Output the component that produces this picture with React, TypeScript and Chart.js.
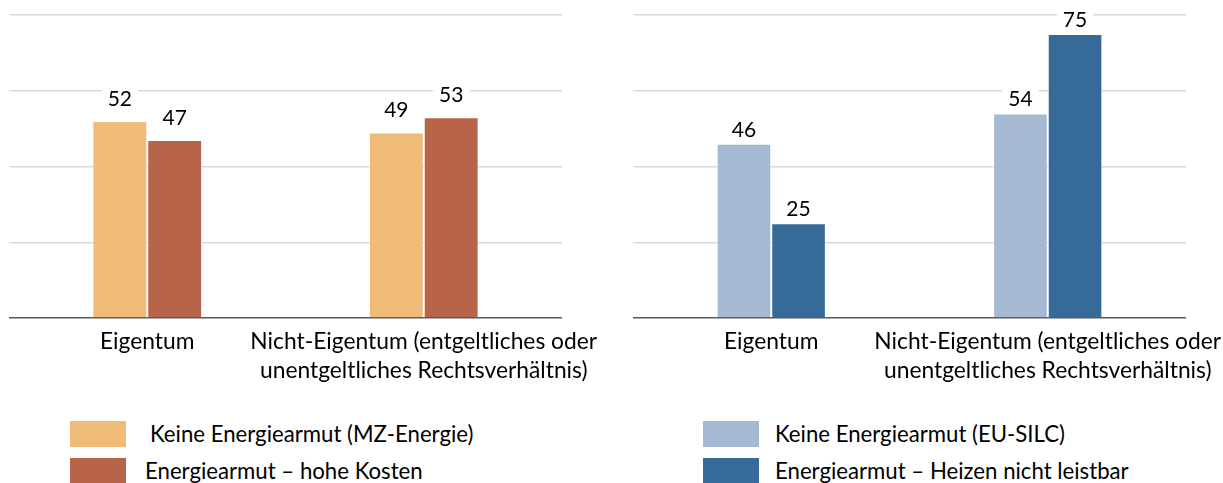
import React, { useEffect, useRef } from 'react';
import { Chart, registerables } from 'chart.js';

Chart.register(...registerables);

// ---- data ----
const categories: string[][] = [
  ['Eigentum'],
  ['Nicht-Eigentum (entgeltliches oder', 'unentgeltliches Rechtsverhältnis)'],
];
const leftSeriesNames = ['Keine Energiearmut (MZ-Energie)', 'Energiearmut – hohe Kosten'];
const leftNoPoverty = [52, 49];
const leftHighCosts = [47, 53];
const rightSeriesNames = ['Keine Energiearmut (EU-SILC)', 'Energiearmut – Heizen nicht leistbar'];
const rightNoPoverty = [46, 54];
const rightHeating = [25, 75];
const yMin = 0;
const yMax = 80;
const yStep = 20;

const leftColors = ['#F0BA78', '#B86449'];
const rightColors = ['#A6B9D3', '#366A99'];

const FONT = 'Lato, "Open Sans", sans-serif';

const makeLabelPlugin = (gap: number) => ({
  id: 'valueLabels',
  afterDatasetsDraw(chart: any) {
    const ctx = chart.ctx;
    ctx.save();
    ctx.font = `21px ${FONT}`;
    ctx.textAlign = 'center';
    ctx.textBaseline = 'alphabetic';
    chart.data.datasets.forEach((ds: any, i: number) => {
      const meta = chart.getDatasetMeta(i);
      meta.data.forEach((bar: any, j: number) => {
        const txt = String(ds.data[j]);
        const w = ctx.measureText(txt).width;
        const base = bar.y - gap;
        ctx.fillStyle = '#ffffff';
        ctx.fillRect(bar.x - w / 2 - 6, base - 20, w + 12, 24);
        ctx.fillStyle = '#000000';
        ctx.fillText(txt, bar.x, base);
      });
    });
    ctx.restore();
  },
});

type PanelProps = {
  left: number;
  width: number;
  height: number;
  padLeft: number;
  padRight: number;
  names: string[];
  series: number[][];
  colors: string[];
  catPct: number;
  labelGap: number;
};

function Panel(p: PanelProps) {
  const ref = useRef<HTMLCanvasElement | null>(null);
  useEffect(() => {
    if (!ref.current) return;
    const chart = new Chart(ref.current, {
      type: 'bar',
      data: {
        labels: categories,
        datasets: p.series.map((d, i) => ({
          label: p.names[i],
          data: d,
          backgroundColor: p.colors[i],
          borderColor: 'rgba(255,255,255,0.6)',
          borderWidth: 1,
          borderSkipped: 'bottom',
          barPercentage: 1,
          categoryPercentage: p.catPct,
        })),
      },
      options: {
        responsive: false,
        animation: false,
        layout: {
          autoPadding: false,
          padding: { left: p.padLeft, right: p.padRight, top: 15, bottom: 0 },
        },
        plugins: {
          legend: { display: false },
          tooltip: { enabled: false },
        },
        scales: {
          x: {
            grid: { display: false, drawTicks: false },
            border: { display: false },
            ticks: {
              padding: 9,
              color: '#000',
              maxRotation: 0,
              autoSkip: false,
              font: { family: FONT, size: 22.8, lineHeight: 29 / 22.8 },
            },
            afterFit: (scale: any) => {
              scale.height = p.height - 318;
              scale.paddingLeft = 0;
              scale.paddingRight = 0;
              scale.paddingTop = 0;
              scale.paddingBottom = 0;
            },
          },
          y: {
            min: yMin,
            max: yMax,
            ticks: { display: false, stepSize: yStep },
            border: { display: false },
            grid: {
              drawTicks: false,
              color: (c: any) => (c.tick && c.tick.value === 0 ? '#595959' : '#D9D9D9'),
              lineWidth: 1.5,
            },
            afterFit: (scale: any) => {
              scale.width = 0;
              scale.paddingLeft = 0;
              scale.paddingRight = 0;
              scale.paddingTop = 0;
              scale.paddingBottom = 0;
            },
          },
        },
      },
      plugins: [makeLabelPlugin(p.labelGap)],
    } as any);
    return () => chart.destroy();
  }, []);
  return (
    <canvas
      ref={ref}
      width={p.width}
      height={p.height}
      style={{ position: 'absolute', left: p.left, top: 0, width: p.width, height: p.height }}
    />
  );
}

function LegendItem(props: { x: number; y: number; tx: number; color: string; text: string; h: number }) {
  return (
    <>
      <div
        style={{
          position: 'absolute',
          left: props.x,
          top: props.y,
          width: 56,
          height: props.h,
          background: props.color,
        }}
      />
      <div
        style={{
          position: 'absolute',
          left: props.tx,
          top: props.y + props.h / 2 - 15,
          height: 30,
          lineHeight: '30px',
          fontFamily: FONT,
          fontSize: 22.2,
          color: '#000',
          whiteSpace: 'nowrap',
        }}
      >
        {props.text}
      </div>
    </>
  );
}

export default function App() {
  return (
    <div
      style={{
        position: 'absolute',
        left: 0,
        top: 0,
        width: 1223,
        height: 483,
        background: '#fff',
        overflow: 'hidden',
      }}
    >
      <Panel
        left={0}
        width={611}
        height={400}
        padLeft={9}
        padRight={49}
        names={leftSeriesNames}
        series={[leftNoPoverty, leftHighCosts]}
        colors={leftColors}
        catPct={0.397}
        labelGap={15}
      />
      <Panel
        left={611}
        width={612}
        height={400}
        padLeft={22}
        padRight={37}
        names={rightSeriesNames}
        series={[rightNoPoverty, rightHeating]}
        colors={rightColors}
        catPct={0.395}
        labelGap={7}
      />
      <LegendItem x={70} y={421} tx={150} color={leftColors[0]} text={leftSeriesNames[0]} h={26} />
      <LegendItem x={70} y={458} tx={145} color={leftColors[1]} text={leftSeriesNames[1]} h={26} />
      <LegendItem x={703} y={421} tx={775} color={rightColors[0]} text={rightSeriesNames[0]} h={26} />
      <LegendItem x={703} y={458} tx={775} color={rightColors[1]} text={rightSeriesNames[1]} h={26} />
    </div>
  );
}
